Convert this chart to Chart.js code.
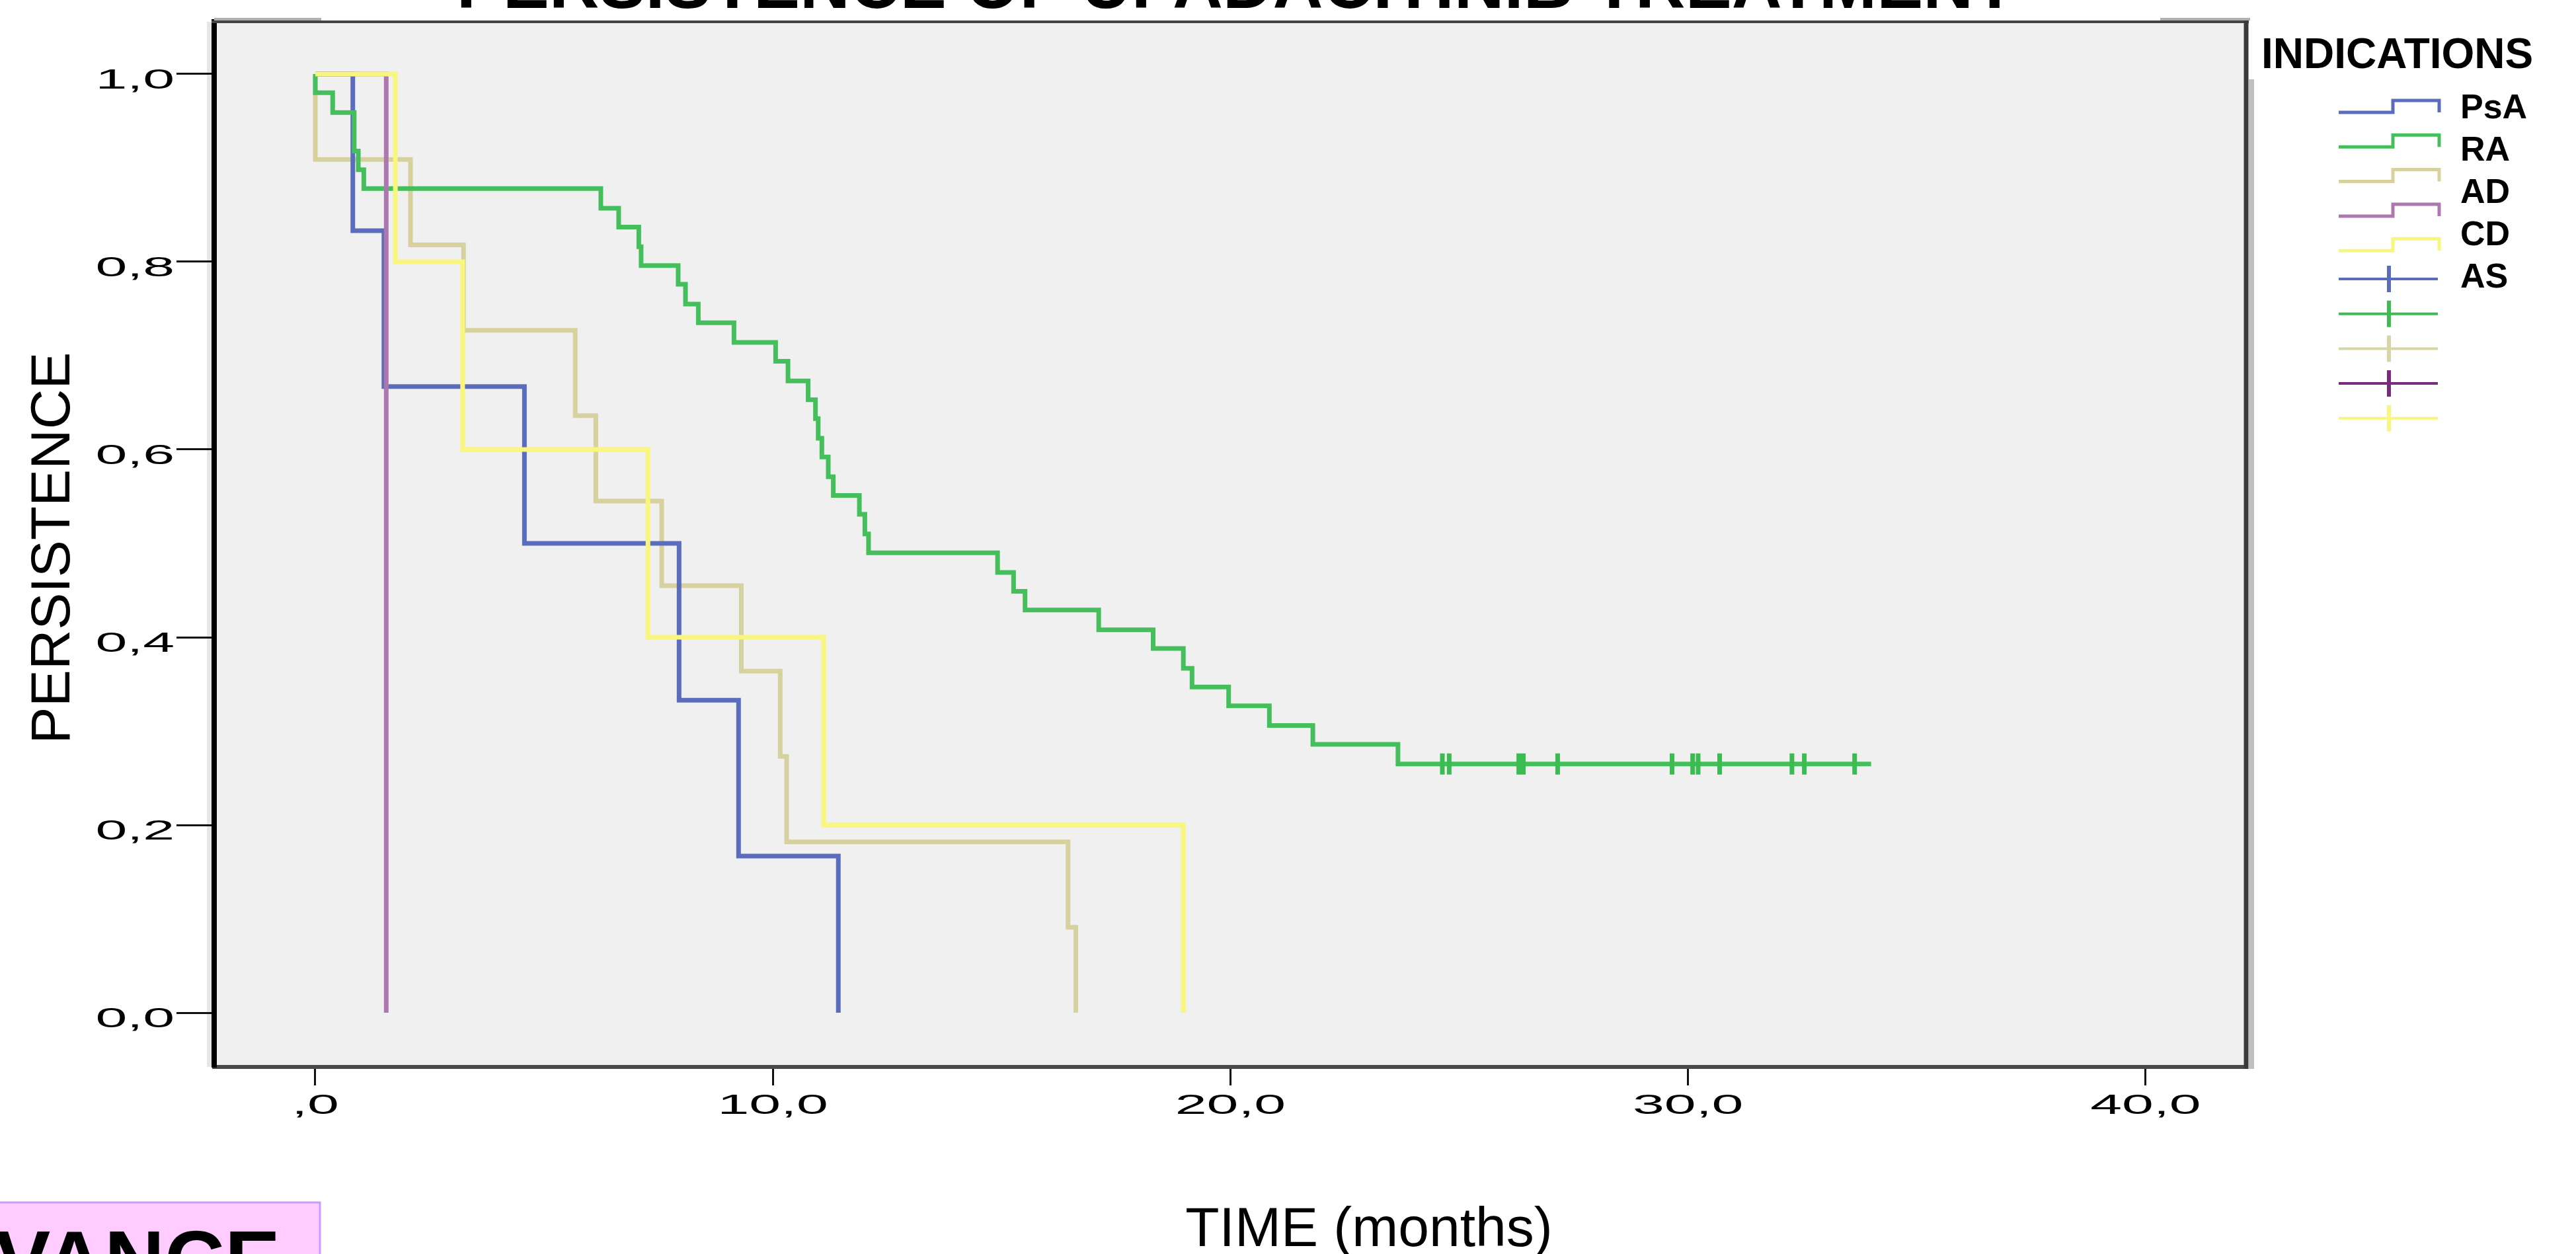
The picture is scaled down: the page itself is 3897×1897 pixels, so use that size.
<!DOCTYPE html>
<html><head><meta charset="utf-8">
<script src="https://cdn.jsdelivr.net/npm/chart.js@4.4.1/dist/chart.umd.min.js"></script>
<style>html,body{margin:0;padding:0;background:#fff;overflow:hidden}#wrap{position:relative;width:3897px;height:1897px}canvas{display:block}</style>
</head><body><div id="wrap"><canvas id="c" width="3897" height="1897"></canvas></div>
<script>
// ---- data ----
const xTicks = [0, 10, 20, 30, 40];
const xTickLabels = [',0', '10,0', '20,0', '30,0', '40,0'];
const yTicks = [0, 0.2, 0.4, 0.6, 0.8, 1.0];
const yTickLabels = ['0,0', '0,2', '0,4', '0,6', '0,8', '1,0'];
const groups = ['PsA', 'RA', 'AD', 'CD', 'AS'];
const chartTitle = 'PERSISTENCE OF UPADACITINIB TREATMENT';
const legendTitle = 'INDICATIONS';
const xTitle = 'TIME (months)';
const yTitle = 'PERSISTENCE';
const cornerText = 'VANCE';

const psaTime = [0, 0.82, 1.50, 4.57, 7.95, 9.25, 11.43];
const psaSurv = [1, 0.833, 0.667, 0.5, 0.333, 0.167, 0];

const raTime = [0, 0.0, 0.38, 0.85, 0.85, 0.94, 1.06, 6.24, 6.63, 7.07, 7.12, 7.93, 8.09, 8.37, 9.15,
  10.06, 10.33, 10.77, 10.93, 10.99, 11.07, 11.21, 11.32, 11.89, 12.01, 12.09, 14.91, 15.26, 15.51,
  17.12, 18.31, 18.97, 19.16, 19.96, 20.85, 21.80, 23.66, 34.0];
const raSurv = [1, 0.980, 0.959, 0.939, 0.918, 0.898, 0.878, 0.857, 0.837, 0.816, 0.796, 0.776, 0.755, 0.735, 0.714,
  0.694, 0.673, 0.653, 0.633, 0.612, 0.592, 0.571, 0.551, 0.531, 0.510, 0.490, 0.469, 0.449, 0.429,
  0.408, 0.388, 0.367, 0.347, 0.327, 0.306, 0.286, 0.265, 0.265];
const raCensTime = [24.63, 24.78, 26.30, 26.40, 27.15, 29.65, 30.10, 30.22, 30.69, 32.27, 32.54, 33.64];
const raCensSurv = [0.265, 0.265, 0.265, 0.265, 0.265, 0.265, 0.265, 0.265, 0.265, 0.265, 0.265, 0.265];

const adTime = [0, 0, 2.08, 3.24, 5.68, 6.13, 7.57, 9.31, 10.16, 10.30, 16.45, 16.62];
const adSurv = [1, 0.909, 0.818, 0.727, 0.636, 0.545, 0.455, 0.364, 0.273, 0.182, 0.091, 0];

const cdTime = [0, 1.55];
const cdSurv = [1, 0];

const asTime = [0, 1.75, 3.22, 7.27, 11.11, 18.97];
const asSurv = [1, 0.8, 0.6, 0.4, 0.2, 0];

// ---- styles ----
const lineColors = ['#5a6cbb', '#45bf5c', '#d6d19f', '#ad78af', '#f8f67c'];
const censColors = ['#5a6cbb', '#3cbb52', '#d8d4a8', '#7a2a7a', '#f8f67c'];
const FONT = '"Liberation Sans", Arial, sans-serif';

function pts(t, s) { return t.map((v, i) => ({ x: v, y: s[i] })); }
function stepDs(label, t, s, color, order) {
  return { label, data: pts(t, s), showLine: true, stepped: 'before', borderColor: color,
    borderWidth: 7, pointRadius: 0, pointHoverRadius: 0, fill: false, order };
}

const datasets = [
  stepDs('PsA', psaTime, psaSurv, lineColors[0], 4),
  stepDs('RA', raTime, raSurv, lineColors[1], 3),
  stepDs('AD', adTime, adSurv, lineColors[2], 5),
  stepDs('CD', cdTime, cdSurv, lineColors[3], 2),
  stepDs('AS', asTime, asSurv, lineColors[4], 1),
  { label: 'RA censored', data: pts(raCensTime, raCensSurv), showLine: false, pointStyle: 'line',
    rotation: 90, pointRadius: 16, pointBorderWidth: 7, borderColor: censColors[1], order: 0 }
];

function stretchedText(ctx, txt, x, y, align) {
  ctx.save();
  ctx.font = '43px ' + FONT;
  const w = ctx.measureText(txt).width * 2;
  let sx = x;
  if (align === 'right') sx = x - w; else if (align === 'center') sx = x - w / 2;
  ctx.translate(sx, y); ctx.scale(2, 1);
  ctx.textAlign = 'left'; ctx.textBaseline = 'alphabetic'; ctx.fillStyle = '#000';
  ctx.fillText(txt, 0, 0);
  ctx.restore();
}

const decor = {
  id: 'decor',
  beforeDraw(chart) {
    const { ctx, chartArea: a } = chart;
    ctx.save();
    ctx.fillStyle = '#fff'; ctx.fillRect(0, 0, chart.width, chart.height);
    ctx.fillStyle = '#f0f0f0'; ctx.fillRect(a.left, a.top, a.right - a.left, a.bottom - a.top);
    ctx.fillStyle = '#e6e6e6'; ctx.fillRect(a.left - 11, a.top, 7, a.bottom - a.top);
    ctx.restore();
  },
  afterDraw(chart) {
    const { ctx, chartArea: a } = chart;
    const xs = chart.scales.x, ys = chart.scales.y;
    ctx.save();
    // frame
    ctx.fillStyle = '#b0b0b0';
    ctx.fillRect(a.left, a.top - 6, 162, 4);
    ctx.fillRect(a.right - 130, a.top - 6, 136, 4);
    ctx.fillStyle = '#c0c0c0'; ctx.fillRect(a.right + 4, 120, 8, a.bottom - 117);
    ctx.strokeStyle = '#444'; ctx.lineWidth = 4;
    ctx.beginPath(); ctx.moveTo(a.left - 4, a.top); ctx.lineTo(a.right + 4, a.top); ctx.stroke();
    ctx.strokeStyle = '#3a3a3a'; ctx.lineWidth = 7;
    ctx.beginPath(); ctx.moveTo(a.right, a.top - 2); ctx.lineTo(a.right, a.bottom + 3); ctx.stroke();
    // tick labels
    yTicks.forEach((v, i) => stretchedText(ctx, yTickLabels[i], 264, ys.getPixelForValue(v) + 22, 'right'));
    xTicks.forEach((v, i) => stretchedText(ctx, xTickLabels[i], xs.getPixelForValue(v), 1685, 'center'));
    // axis titles
    ctx.fillStyle = '#000';
    ctx.font = '84px ' + FONT; ctx.textAlign = 'center'; ctx.textBaseline = 'alphabetic';
    ctx.fillText(xTitle, 2071, 1885);
    ctx.save(); ctx.translate(105, 829); ctx.rotate(-Math.PI / 2); ctx.fillText(yTitle, 0, 0); ctx.restore();
    // chart title (clipped at top)
    ctx.font = 'bold 105px ' + FONT; ctx.textAlign = 'center';
    ctx.fillText(chartTitle, 1870, 12);
    // legend
    ctx.textAlign = 'left';
    ctx.font = 'bold 64px ' + FONT;
    ctx.fillText(legendTitle, 3421, 103);
    ctx.font = 'bold 52px ' + FONT;
    groups.forEach((g, i) => ctx.fillText(g, 3722, 179 + 64 * i));
    ctx.lineCap = 'butt'; ctx.lineJoin = 'miter';
    for (let i = 0; i < 5; i++) {
      const yl = 170 + 52.3 * i, yh = yl - 18;
      ctx.strokeStyle = lineColors[i]; ctx.lineWidth = 5;
      ctx.beginPath(); ctx.moveTo(3538, yl); ctx.lineTo(3620, yl); ctx.lineTo(3620, yh);
      ctx.lineTo(3690, yh); ctx.lineTo(3690, yl); ctx.stroke();
    }
    for (let i = 0; i < 5; i++) {
      const y = 422 + 52.7 * i;
      ctx.strokeStyle = censColors[i];
      ctx.lineWidth = 4;
      ctx.beginPath(); ctx.moveTo(3538, y); ctx.lineTo(3688, y); ctx.stroke();
      ctx.lineWidth = 6;
      ctx.beginPath(); ctx.moveTo(3614, y - 20); ctx.lineTo(3614, y + 20); ctx.stroke();
    }
    // pink corner box
    ctx.fillStyle = '#ffccff'; ctx.fillRect(-10, 1819, 494, 120);
    ctx.strokeStyle = '#cc99ff'; ctx.lineWidth = 3;
    ctx.strokeRect(-10, 1819, 494, 120);
    ctx.fillStyle = '#000'; ctx.font = 'bold 126px ' + FONT; ctx.textAlign = 'right';
    ctx.fillText(cornerText, 424, 1950);
    ctx.restore();
  }
};

new Chart(document.getElementById('c'), {
  type: 'scatter',
  data: { datasets },
  options: {
    responsive: false, animation: false, devicePixelRatio: 1,
    layout: { padding: { left: 0, top: 33, right: 499, bottom: 0 } },
    plugins: { legend: { display: false }, tooltip: { enabled: false }, title: { display: false } },
    scales: {
      x: {
        type: 'linear', min: -2.210, max: 42.196,
        afterBuildTicks: s => { s.ticks = xTicks.map(v => ({ value: v })); },
        afterFit: s => { s.height = 283; },
        ticks: { display: false },
        grid: { display: true, drawOnChartArea: false, drawTicks: true, tickLength: 28, tickWidth: 3, tickColor: '#111' },
        border: { display: true, color: '#4a4a4a', width: 6 }
      },
      y: {
        type: 'linear', min: -0.0577, max: 1.0556,
        afterBuildTicks: s => { s.ticks = yTicks.map(v => ({ value: v })); },
        afterFit: s => { s.width = 324; },
        ticks: { display: false },
        grid: { display: true, drawOnChartArea: false, drawTicks: true, tickLength: 57, tickWidth: 3, tickColor: '#111' },
        border: { display: true, color: '#000', width: 8 }
      }
    }
  },
  plugins: [decor]
});
</script>
</body></html>
